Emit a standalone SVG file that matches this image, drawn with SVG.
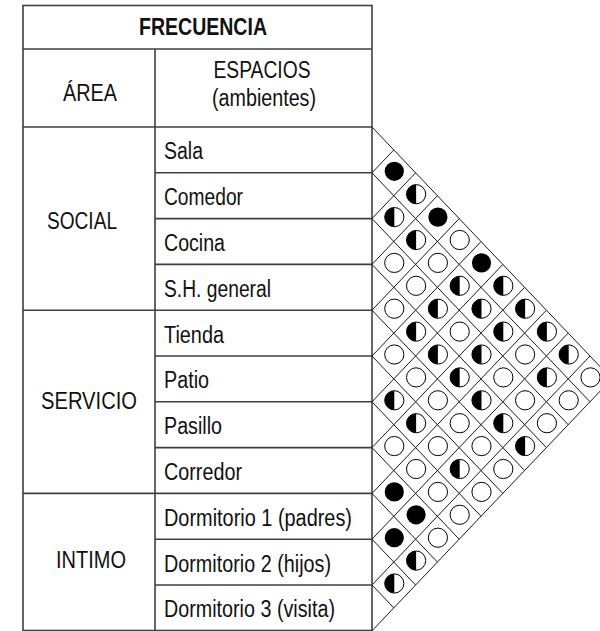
<svg xmlns="http://www.w3.org/2000/svg" xmlns:xlink="http://www.w3.org/1999/xlink" width="600" height="631" viewBox="0 0 600 631">
<style>
.tl{stroke:#404040;stroke-width:1.6;fill:none}
.gl{stroke:#1a1a1a;stroke-width:1;fill:none}
.t{font-family:"Liberation Sans",Arial,sans-serif;font-size:23px;fill:#111}
.b{font-weight:bold}
.m{text-anchor:middle}
</style>
<defs>
<g id="f"><circle r="9.6" fill="#000"/></g>
<g id="e"><circle r="9.6" fill="#fff" stroke="#000" stroke-width="1"/></g>
<g id="h"><circle r="9.6" fill="#fff" stroke="#000" stroke-width="1"/><path d="M0,-9.6 A9.6,9.6 0 0 0 0,9.6 Z" fill="#000"/></g>
</defs>
<rect width="600" height="631" fill="#fff"/>

<g id="table">
<rect class="tl" x="23" y="5.5" width="349" height="625"/>
<path class="tl" d="M23,49H372 M155,49V630.5 M23,127H372 M23,310.2H372 M23,493.4H372 M155,172.8H372 M155,218.6H372 M155,264.4H372 M155,356H372 M155,401.8H372 M155,447.6H372 M155,539.2H372 M155,585H372"/>
</g>

<g id="header">
<text class="t b m" x="203" y="35" textLength="128" lengthAdjust="spacingAndGlyphs">FRECUENCIA</text>
<text class="t m" x="90" y="100.7" textLength="54" lengthAdjust="spacingAndGlyphs">ÁREA</text>
<text class="t m" x="262" y="78" textLength="97" lengthAdjust="spacingAndGlyphs">ESPACIOS</text>
<text class="t m" x="264" y="106" textLength="104" lengthAdjust="spacingAndGlyphs">(ambientes)</text>
</g>

<g id="areas">
<text class="t m" x="82" y="229" textLength="70" lengthAdjust="spacingAndGlyphs">SOCIAL</text>
<text class="t m" x="89" y="409.3" textLength="96" lengthAdjust="spacingAndGlyphs">SERVICIO</text>
<text class="t m" x="91" y="568.3" textLength="70" lengthAdjust="spacingAndGlyphs">INTIMO</text>
</g>

<g id="spaces">
<text class="t" x="164" y="159.3" textLength="39" lengthAdjust="spacingAndGlyphs">Sala</text>
<text class="t" x="164" y="205.1" textLength="79" lengthAdjust="spacingAndGlyphs">Comedor</text>
<text class="t" x="164" y="250.9" textLength="61" lengthAdjust="spacingAndGlyphs">Cocina</text>
<text class="t" x="164" y="296.7" textLength="107" lengthAdjust="spacingAndGlyphs">S.H. general</text>
<text class="t" x="164" y="342.5" textLength="60" lengthAdjust="spacingAndGlyphs">Tienda</text>
<text class="t" x="164" y="388.3" textLength="45" lengthAdjust="spacingAndGlyphs">Patio</text>
<text class="t" x="164" y="434.1" textLength="58" lengthAdjust="spacingAndGlyphs">Pasillo</text>
<text class="t" x="164" y="479.9" textLength="78" lengthAdjust="spacingAndGlyphs">Corredor</text>
<text class="t" x="164" y="525.7" textLength="188" lengthAdjust="spacingAndGlyphs">Dormitorio 1 (padres)</text>
<text class="t" x="164" y="571.5" textLength="167" lengthAdjust="spacingAndGlyphs">Dormitorio 2 (hijos)</text>
<text class="t" x="164" y="617.3" textLength="171" lengthAdjust="spacingAndGlyphs">Dormitorio 3 (visita)</text>
</g>

<g id="connectors">
<path class="gl" d="M372,127 L611.8,378.9
M393.8,149.9 L372,172.8 L590,401.8
M415.6,172.8 L372,218.6 L568.2,424.7
M437.4,195.7 L372,264.4 L546.4,447.6
M459.2,218.6 L372,310.2 L524.6,470.5
M481,241.5 L372,356 L502.8,493.4
M502.8,264.4 L372,401.8 L481,516.3
M524.6,287.3 L372,447.6 L459.2,539.2
M546.4,310.2 L372,493.4 L437.4,562.1
M568.2,333.1 L372,539.2 L415.6,585
M590,356 L372,585 L393.8,607.9
M611.8,378.9 L372,630.8"/>
</g>

<g id="matrix" transform="translate(0.5,-1.5)">
<use href="#f" x="393.8" y="172.8"/>
<use href="#h" x="415.6" y="195.7"/>
<use href="#h" x="393.8" y="218.6"/><use href="#f" x="437.4" y="218.6"/>
<use href="#h" x="415.6" y="241.5"/><use href="#e" x="459.2" y="241.5"/>
<use href="#e" x="393.8" y="264.4"/><use href="#e" x="437.4" y="264.4"/><use href="#f" x="481" y="264.4"/>
<use href="#e" x="415.6" y="287.3"/><use href="#h" x="459.2" y="287.3"/><use href="#h" x="502.8" y="287.3"/>
<use href="#e" x="393.8" y="310.2"/><use href="#h" x="437.4" y="310.2"/><use href="#h" x="481" y="310.2"/><use href="#h" x="524.6" y="310.2"/>
<use href="#h" x="415.6" y="333.1"/><use href="#e" x="459.2" y="333.1"/><use href="#h" x="502.8" y="333.1"/><use href="#h" x="546.4" y="333.1"/>
<use href="#e" x="393.8" y="356"/><use href="#h" x="437.4" y="356"/><use href="#h" x="481" y="356"/><use href="#e" x="524.6" y="356"/><use href="#h" x="568.2" y="356"/>
<use href="#e" x="415.6" y="378.9"/><use href="#h" x="459.2" y="378.9"/><use href="#e" x="502.8" y="378.9"/><use href="#h" x="546.4" y="378.9"/><use href="#e" x="590" y="378.9"/>
<use href="#h" x="393.8" y="401.8"/><use href="#e" x="437.4" y="401.8"/><use href="#h" x="481" y="401.8"/><use href="#e" x="524.6" y="401.8"/><use href="#e" x="568.2" y="401.8"/>
<use href="#h" x="415.6" y="424.7"/><use href="#e" x="459.2" y="424.7"/><use href="#h" x="502.8" y="424.7"/><use href="#e" x="546.4" y="424.7"/>
<use href="#e" x="393.8" y="447.6"/><use href="#e" x="437.4" y="447.6"/><use href="#e" x="481" y="447.6"/><use href="#h" x="524.6" y="447.6"/>
<use href="#e" x="415.6" y="470.5"/><use href="#h" x="459.2" y="470.5"/><use href="#e" x="502.8" y="470.5"/>
<use href="#f" x="393.8" y="493.4"/><use href="#e" x="437.4" y="493.4"/><use href="#e" x="481" y="493.4"/>
<use href="#f" x="415.6" y="516.3"/><use href="#e" x="459.2" y="516.3"/>
<use href="#f" x="393.8" y="539.2"/><use href="#e" x="437.4" y="539.2"/>
<use href="#h" x="415.6" y="562.1"/>
<use href="#h" x="393.8" y="585"/>
</g>
</svg>
